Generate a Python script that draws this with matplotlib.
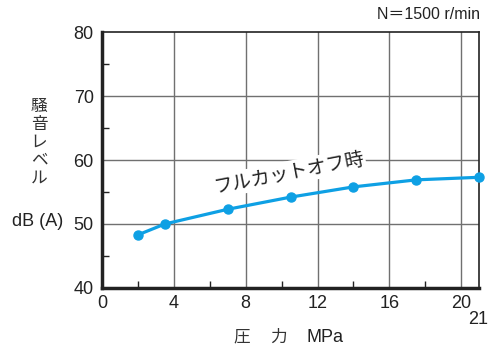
import matplotlib
matplotlib.use("Agg")
import matplotlib.pyplot as plt
import numpy as np

plt.rcParams['font.family'] = ['Liberation Sans', 'Noto Sans CJK JP', 'DejaVu Sans']

pressure = [2.0, 3.5, 7.0, 10.5, 14.0, 17.5, 21.0]
noise = [48.3, 50.0, 52.3, 54.2, 55.8, 56.9, 57.3]
x_ticks = [0, 4, 8, 12, 16, 20]
y_ticks = [40, 50, 60, 70, 80]

blue = '#0ea0e4'
grid_c = '#707070'
txt = '#222222'

fig = plt.figure(figsize=(4.93, 3.49), dpi=100)
ax = fig.add_axes([0.207, 0.175, 0.765, 0.733])
ax.set_xlim(0, 21)
ax.set_ylim(40, 80)

for x in [4, 8, 12, 16, 20]:
    ax.axvline(x, color=grid_c, lw=1.0, zorder=1)
for y in [50, 60, 70]:
    ax.axhline(y, color=grid_c, lw=1.0, zorder=1)

ax.plot(pressure, noise, color=blue, lw=2.3, marker='o', ms=6.5, zorder=3, clip_on=False)

ax.set_xticks(x_ticks)
ax.set_yticks(y_ticks)
ax.set_xticks([2, 6, 10, 14, 18], minor=True)
ax.set_yticks([45, 55, 65, 75], minor=True)
ax.tick_params(which='major', direction='in', length=0, labelsize=13, colors=txt)
ax.tick_params(axis='y', which='major', pad=6)
ax.tick_params(axis='x', which='major', pad=5)
ax.tick_params(which='minor', direction='in', length=5, width=1, colors=txt)

for s in ['left', 'bottom']:
    ax.spines[s].set_linewidth(2.5)
    ax.spines[s].set_color(txt)
for s in ['top', 'right']:
    ax.spines[s].set_linewidth(1.2)
    ax.spines[s].set_color(txt)

ax.text(20.95, 35.1, '21', ha='center', va='center', fontsize=13, color=txt)

ax.text(10.4, 58.0, 'フルカットオフ時', rotation=11, ha='center', va='center',
        fontsize=13.8, family=['Noto Sans CJK JP'], color=txt, zorder=4,
        bbox=dict(facecolor='white', edgecolor='none', pad=1.0))

fig.text(0.079, 0.593, '騒\n音\nレ\nベ\nル', ha='center', va='center', fontsize=12,
         family=['Noto Sans CJK JP'], color='#333333', linespacing=1.08)
fig.text(0.077, 0.364, 'dB (A)', ha='center', va='center', fontsize=13, color=txt)
fig.text(0.4726, 0.034, '圧', ha='left', va='center', fontsize=12,
         family=['Noto Sans CJK JP'], color='#333333')
fig.text(0.5477, 0.034, '力', ha='left', va='center', fontsize=12,
         family=['Noto Sans CJK JP'], color='#333333')
fig.text(0.6227, 0.034, 'MPa', ha='left', va='center', fontsize=13, color=txt)
fig.text(0.974, 0.958, 'N\uff1d1500 r/min', ha='right', va='center', fontsize=11.5,
         family=['Liberation Sans', 'Noto Sans CJK JP'], color=txt)

fig.savefig('out.png', dpi=100)
